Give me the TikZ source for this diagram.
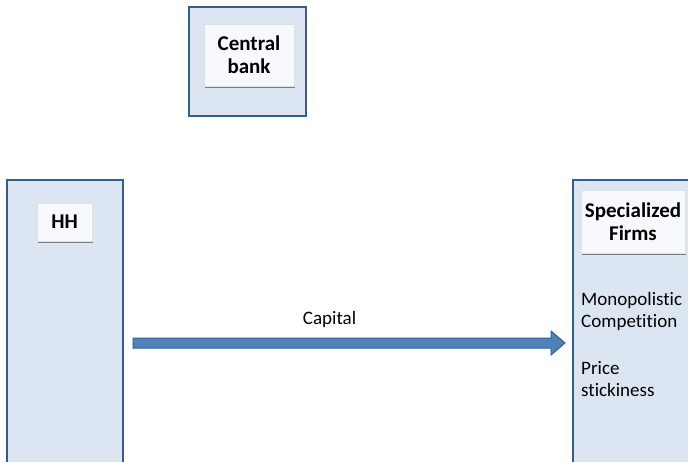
\documentclass[tikz,border=0pt]{standalone}
\usepackage{fontspec}
\setmainfont[Ligatures={NoCommon}]{Carlito}
\usetikzlibrary{calc,shadows}
\definecolor{panelfill}{HTML}{DCE6F2}
\definecolor{panelline}{HTML}{385D8A}
\definecolor{arrowfill}{HTML}{4F81BD}
\definecolor{tagfill}{HTML}{F7F9FC}
\tikzset{
  panel/.style={draw=panelline, fill=panelfill, line width=1.6pt},
  tag/.style={fill=tagfill, draw=black!12, line width=0.5pt, font=\fontsize{21}{24}\selectfont\bfseries,
    align=center, inner sep=0pt,
    drop shadow={shadow xshift=1.2pt, shadow yshift=-1.8pt, fill=black, opacity=0.45}},
  plain/.style={font=\fontsize{19}{22.5}\selectfont, align=left, inner sep=0pt}
}
\begin{document}
\begin{tikzpicture}[x=1pt,y=-1pt]
\useasboundingbox (0,0) rectangle (688,461);
% agents
\draw[panel] (189,7) rectangle (306,116);
\draw[panel] (7,180) rectangle (123,475);
\draw[panel] (573,180) rectangle (700,475);
% labels in white tags
\node[tag, minimum width=90pt, minimum height=62pt] (cb) at (249,55) {Central\\[-1pt]bank};
\node[tag, minimum width=55pt, minimum height=38pt] (hh) at (64.5,222) {HH};
\node[tag, minimum width=104pt, minimum height=63pt] (sf) at (633,221.5) {Specialized\\[-1pt]Firms};
% firm features
\node[plain, anchor=north west] (mc) at (581,292) {Monopolistic\\Competition};
\node[plain, anchor=north west] (ps) at (581,361) {Price\\stickiness};
% capital flow
\coordinate (from) at (133,343);
\coordinate (to) at (565,343);
\fill[arrowfill, draw=panelline, line width=1pt, line join=miter]
  ($(from)+(0,-5)$) -- ($(to)+(-14,-5)$) -- ($(to)+(-14,-12)$) -- (to)
  -- ($(to)+(-14,12)$) -- ($(to)+(-14,5)$) -- ($(from)+(0,5)$) -- cycle;
\node[plain] (cap) at ($(from)!0.455!(to)+(0,-24)$) {Capital};
\end{tikzpicture}
\end{document}
